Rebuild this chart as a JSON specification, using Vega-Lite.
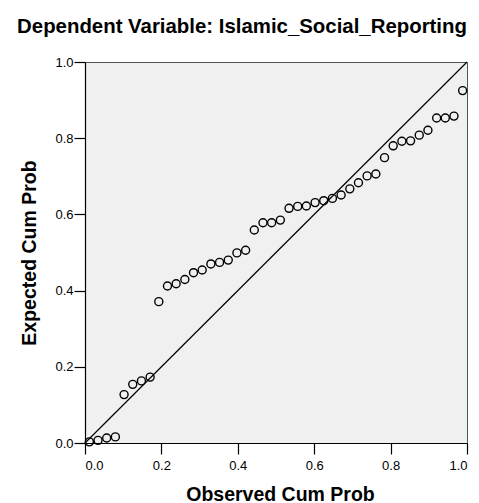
{
  "$schema": "https://vega.github.io/schema/vega-lite/v6.json",
  "autosize": "none",
  "width": 382,
  "height": 381,
  "padding": {"left": 85, "top": 62, "right": 12, "bottom": 60},
  "background": "white",
  "title": {
    "text": "Dependent Variable: Islamic_Social_Reporting",
    "font": "Liberation Sans",
    "fontSize": 20.4,
    "fontWeight": "bold",
    "color": "black",
    "anchor": "middle",
    "baseline": "bottom",
    "dx": -34,
    "dy": 20,
    "offset": 19
  },
  "config": {
    "view": {"fill": "#f0f0f0", "stroke": "#555555", "strokeWidth": 1},
    "axis": {
      "grid": false,
      "domainColor": "black",
      "domainWidth": 1.2,
      "tickColor": "black",
      "tickWidth": 1.2,
      "tickSize": 11,
      "labelFont": "Liberation Sans",
      "labelFontSize": 13,
      "labelColor": "black",
      "titleFont": "Liberation Sans",
      "titleFontSize": 19.5,
      "titleFontWeight": "bold",
      "titleColor": "black"
    }
  },
  "layer": [
    {
      "data": {"values": [{"x": 0, "y": 0}, {"x": 1, "y": 1}]},
      "mark": {"type": "line", "color": "black", "strokeWidth": 1.2},
      "encoding": {
        "x": {"field": "x", "type": "quantitative"},
        "y": {"field": "y", "type": "quantitative"}
      }
    },
    {
      "data": {"values": [
        {"x": 0.0114, "y": 0.003}, {"x": 0.0341, "y": 0.007}, {"x": 0.0568, "y": 0.013}, {"x": 0.0795, "y": 0.016},
        {"x": 0.1023, "y": 0.127}, {"x": 0.125, "y": 0.154}, {"x": 0.1477, "y": 0.163}, {"x": 0.1705, "y": 0.173},
        {"x": 0.1932, "y": 0.371}, {"x": 0.2159, "y": 0.412}, {"x": 0.2386, "y": 0.418}, {"x": 0.2614, "y": 0.429},
        {"x": 0.2841, "y": 0.447}, {"x": 0.3068, "y": 0.454}, {"x": 0.3295, "y": 0.470}, {"x": 0.3523, "y": 0.474},
        {"x": 0.375, "y": 0.480}, {"x": 0.3977, "y": 0.499}, {"x": 0.4205, "y": 0.506}, {"x": 0.4432, "y": 0.559},
        {"x": 0.4659, "y": 0.578}, {"x": 0.4886, "y": 0.578}, {"x": 0.5114, "y": 0.585}, {"x": 0.5341, "y": 0.616},
        {"x": 0.5568, "y": 0.621}, {"x": 0.5795, "y": 0.622}, {"x": 0.6023, "y": 0.631}, {"x": 0.625, "y": 0.636},
        {"x": 0.6477, "y": 0.642}, {"x": 0.6705, "y": 0.651}, {"x": 0.6932, "y": 0.667}, {"x": 0.7159, "y": 0.683},
        {"x": 0.7386, "y": 0.701}, {"x": 0.7614, "y": 0.706}, {"x": 0.7841, "y": 0.749}, {"x": 0.8068, "y": 0.780},
        {"x": 0.8295, "y": 0.792}, {"x": 0.8523, "y": 0.793}, {"x": 0.875, "y": 0.808}, {"x": 0.8977, "y": 0.821},
        {"x": 0.9205, "y": 0.853}, {"x": 0.9432, "y": 0.853}, {"x": 0.9659, "y": 0.858}, {"x": 0.9886, "y": 0.925}
      ]},
      "mark": {"type": "point", "shape": "circle", "filled": false, "stroke": "black", "strokeWidth": 1.4, "size": 64, "opacity": 1},
      "encoding": {
        "x": {
          "field": "x", "type": "quantitative",
          "scale": {"domain": [0, 1], "nice": false},
          "axis": {"values": [0, 0.2, 0.4, 0.6, 0.8, 1.0], "format": ".1f", "title": "Observed Cum Prob", "labelPadding": 5, "titleBaseline": "alphabetic", "titleY": 57, "titleX": 195}
        },
        "y": {
          "field": "y", "type": "quantitative",
          "scale": {"domain": [0, 1], "nice": false},
          "axis": {"values": [0, 0.2, 0.4, 0.6, 0.8, 1.0], "format": ".1f", "title": "Expected Cum Prob", "labelPadding": 1, "titleBaseline": "alphabetic", "titleX": -50}
        }
      }
    }
  ]
}
